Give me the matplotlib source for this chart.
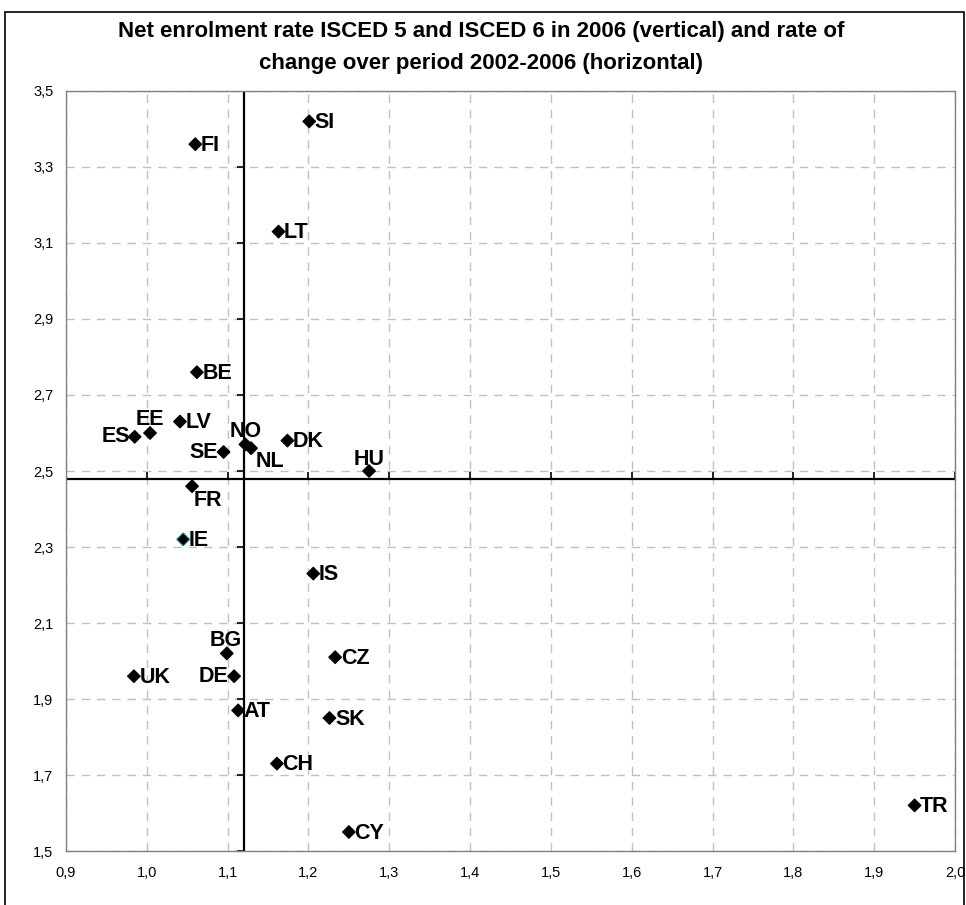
import matplotlib
matplotlib.use("Agg")
import matplotlib.pyplot as plt
from matplotlib.ticker import FuncFormatter
from matplotlib.patches import Rectangle

plt.rcParams['font.family'] = ['Liberation Sans', 'DejaVu Sans']

# countries, rate of change 2002-2006 (x) and net enrolment rate 2006 (y)
countries = ['SI', 'FI', 'LT', 'BE', 'ES', 'EE', 'LV', 'SE', 'NO', 'NL', 'DK', 'HU',
             'FR', 'IE', 'IS', 'BG', 'DE', 'UK', 'CZ', 'AT', 'SK', 'CH', 'CY', 'TR']
change = [1.201, 1.060, 1.163, 1.062, 0.985, 1.004, 1.041, 1.095, 1.122, 1.129, 1.174, 1.275,
          1.056, 1.045, 1.206, 1.099, 1.108, 0.984, 1.233, 1.113, 1.226, 1.161, 1.250, 1.950]
enrol = [3.42, 3.36, 3.13, 2.76, 2.59, 2.60, 2.63, 2.55, 2.57, 2.56, 2.58, 2.50,
         2.46, 2.32, 2.23, 2.02, 1.96, 1.96, 2.01, 1.87, 1.85, 1.73, 1.55, 1.62]

# label offsets in points (dx, dy, ha, va)
offsets = {
    'ES': (-3, 0, 'right', 'center'), 'EE': (0, 2, 'center', 'bottom'),
    'SE': (-4, 0, 'right', 'center'), 'NO': (0, 2, 'center', 'bottom'),
    'NL': (3, -2, 'left', 'top'), 'HU': (0, 1, 'center', 'bottom'),
    'FR': (1, -3, 'left', 'top'), 'BG': (-1, 2, 'center', 'bottom'),
    'DE': (-4, 0, 'right', 'center'),
}

x_cross = 1.12
y_cross = 2.48
xticks = [0.9, 1.0, 1.1, 1.2, 1.3, 1.4, 1.5, 1.6, 1.7, 1.8, 1.9, 2.0]
yticks = [1.5, 1.7, 1.9, 2.1, 2.3, 2.5, 2.7, 2.9, 3.1, 3.3, 3.5]

fig = plt.figure(figsize=(9.66, 9.05), dpi=100)
ax = fig.add_axes([66/966, 1-851/905, (955-66)/966, (851-91)/905])

ax.set_xlim(0.9, 2.0)
ax.set_ylim(1.5, 3.5)
ax.set_xticks(xticks)
ax.set_yticks(yticks)
comma = FuncFormatter(lambda v, p: ('%.1f' % v).replace('.', ','))
ax.xaxis.set_major_formatter(comma)
ax.yaxis.set_major_formatter(comma)
ax.tick_params(length=0, labelsize=10.5, pad=11)
ax.tick_params(axis='y', pad=9)
for s in ax.spines.values():
    s.set_color('#808080')
    s.set_linewidth(1)

ax.grid(True, color='#c0c0c0', linestyle=(0, (6, 5)), linewidth=1)
ax.set_axisbelow(True)

# crossing axes with small ticks
ax.axvline(x_cross, color='black', lw=1.6, zorder=2)
ax.axhline(y_cross, color='black', lw=1.6, zorder=2)
ax.hlines(yticks, x_cross - 0.008, x_cross, color='black', lw=1.2, zorder=2)
ax.vlines(xticks, y_cross, y_cross + 0.017, color='black', lw=1.2, zorder=2)

edges = ['#008080' if c == 'IE' else 'black' for c in countries]
ax.scatter(change, enrol, marker='D', s=42, c='black', edgecolors=edges,
           linewidths=0.8, zorder=3)

for c, x, y in zip(countries, change, enrol):
    dx, dy, ha, va = offsets.get(c, (4, -1, 'left', 'center'))
    ax.annotate(c, (x, y), xytext=(dx, dy), textcoords='offset points',
                ha=ha, va=va, fontsize=15.5, fontweight='bold', zorder=4)

fig.text(0.498, 1-31/905, 'Net enrolment rate ISCED 5 and ISCED 6 in 2006 (vertical) and rate of',
         ha='center', va='center', fontsize=16, fontweight='bold')
fig.text(0.498, 1-64/905, 'change over period 2002-2006 (horizontal)',
         ha='center', va='center', fontsize=16, fontweight='bold')

fig.patches.append(Rectangle((5/966, -0.02), 959/966, 1-12/905+0.02, transform=fig.transFigure,
                             fill=False, edgecolor='black', lw=1.2))

fig.savefig('out.png', dpi=100)
